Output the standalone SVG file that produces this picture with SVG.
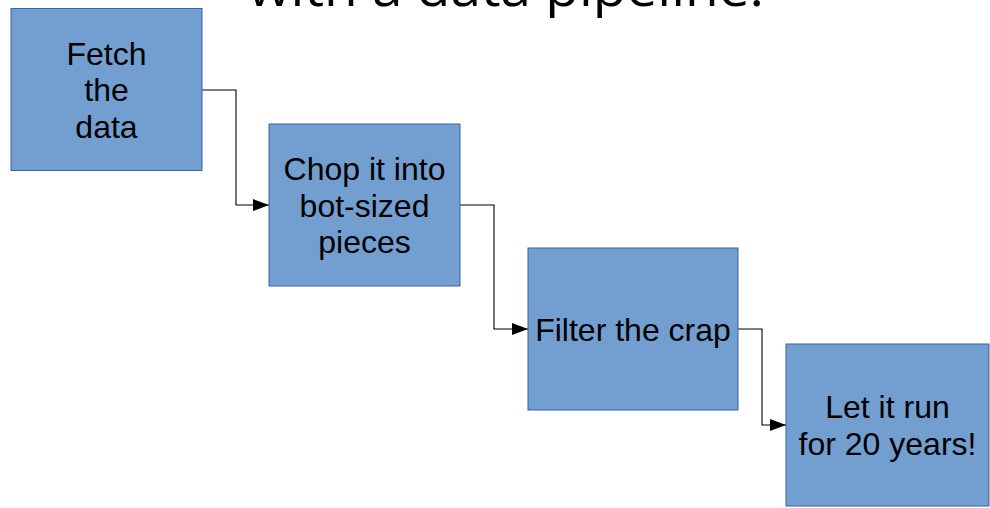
<svg xmlns="http://www.w3.org/2000/svg" width="990" height="508" viewBox="0 0 990 508">
<defs>
<style>
.box{fill:#729fcf;stroke:#3465a4;stroke-width:1}
.lbl{font-family:"Liberation Sans",Arial,sans-serif;font-size:32px;fill:#000;text-anchor:middle}
.conn{fill:none;stroke:#000;stroke-width:1.1}
.title{font-family:"Open Sans","Liberation Sans",sans-serif;font-size:52px;fill:#000}
</style>
<marker id="arr" viewBox="0 0 16 12" refX="16" refY="6" markerWidth="16" markerHeight="12" markerUnits="userSpaceOnUse" orient="auto">
<path d="M0,0 L16,6 L0,12 Z" fill="#000"/>
</marker>
</defs>
<rect width="990" height="508" fill="#fff"/>
<text class="title" x="248" y="6" textLength="516" lengthAdjust="spacingAndGlyphs">with a data pipeline.</text>
<g id="connectors">
<path class="conn" d="M202,90 H236 V205 H269" marker-end="url(#arr)"/>
<path class="conn" d="M460,205 H494 V329 H528" marker-end="url(#arr)"/>
<path class="conn" d="M738,329 H762 V425 H786" marker-end="url(#arr)"/>
</g>
<g id="fetch">
<rect class="box" x="11" y="8.5" width="191" height="162"/>
<text class="lbl"><tspan x="106.5" y="64.5">Fetch</tspan><tspan x="106.5" y="101">the</tspan><tspan x="106.5" y="137.5">data</tspan></text>
</g>
<g id="chop">
<rect class="box" x="269" y="124" width="191" height="162"/>
<text class="lbl"><tspan x="364.5" y="180">Chop it into</tspan><tspan x="364.5" y="216.5">bot-sized</tspan><tspan x="364.5" y="253">pieces</tspan></text>
</g>
<g id="filter">
<rect class="box" x="528" y="248" width="210" height="162"/>
<text class="lbl" x="633" y="340.5">Filter the crap</text>
</g>
<g id="run">
<rect class="box" x="786" y="344" width="203" height="162"/>
<text class="lbl"><tspan x="887.5" y="418">Let it run</tspan><tspan x="887.5" y="454.5">for 20 years!</tspan></text>
</g>
</svg>
